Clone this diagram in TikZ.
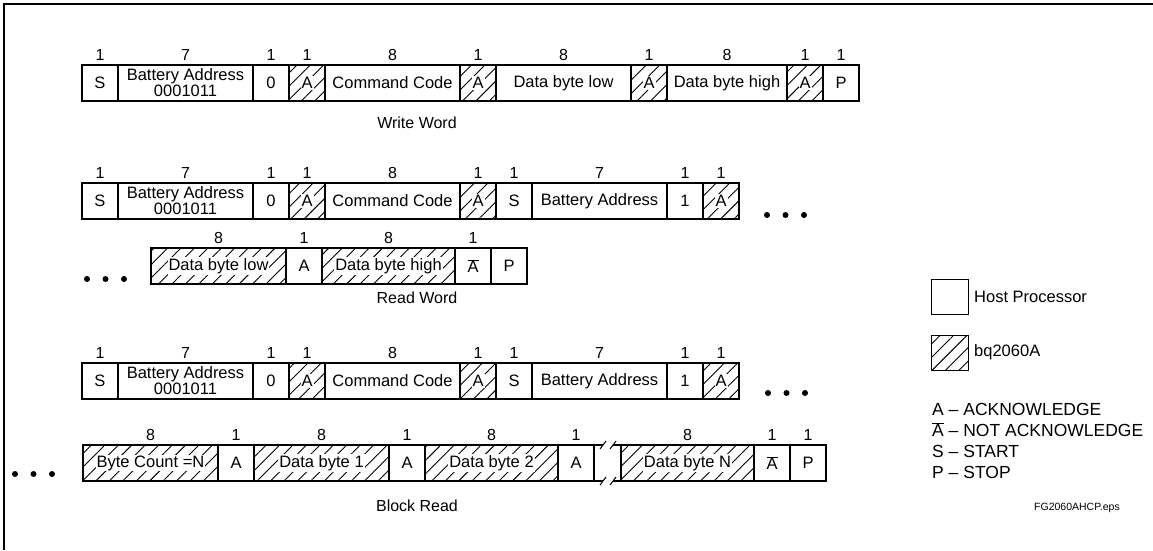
\documentclass[tikz,border=0pt]{standalone}
\usepackage{fontspec}
\setmainfont{Liberation Sans}
\usetikzlibrary{positioning, patterns.meta}

\newcommand{\nack}{$\overline{\mbox{A}}$}
\newcommand{\onwhite}[1]{{\setlength{\fboxsep}{1pt}\colorbox{white}{#1}}}

\begin{document}
\begin{tikzpicture}[
        x=1pt, y=-1pt,
        label distance=4pt,
        field/.style = {draw, line width=1.6pt, minimum height=36, inner sep=0pt, outer sep=0pt, align=center, font=\fontsize{16.5}{14}\selectfont},
        host/.style = {field},
        dev/.style = {field, pattern={Lines[angle=45, distance=9.5pt, line width=0.9pt]}},
        onebit/.style = {minimum width=36},
        bytewide/.style = {minimum width=135},
        bits/.style = {label={[bitcount]above:#1}},
        bitcount/.style = {font=\fontsize{16}{16}\selectfont, inner sep=0pt},
        rowtitle/.style = {font=\fontsize{16}{16}\selectfont},
        rim/.style = {line width=1.6pt},
        keybox/.style = {draw, line width=1pt, minimum width=37, minimum height=35, inner sep=0pt, outer sep=0pt},
        keytext/.style = {font=\fontsize{16.5}{16.5}\selectfont, inner sep=0pt}
    ]
    \useasboundingbox (0,0) rectangle (1153,550);
    \draw[line width=1.5pt] (4,550) -- (4,4) -- (1153,4);

    % write word
    \node[host, onebit, bits=1, anchor=north west] (ws) at (82,65) {S};
    \node[host, bytewide, bits=7, right=0pt of ws] (waddr) {Battery Address\\0001011};
    \node[host, onebit, bits=1, right=0pt of waddr] (wrw) {0};
    \node[dev, onebit, bits=1, right=0pt of wrw] (wack1) {\onwhite{A}};
    \node[host, bytewide, bits=8, right=0pt of wack1] (wcmd) {Command Code};
    \node[dev, onebit, bits=1, right=0pt of wcmd] (wack2) {\onwhite{A}};
    \node[host, bytewide, bits=8, right=0pt of wack2] (wlo) {Data byte low};
    \node[dev, onebit, bits=1, right=0pt of wlo] (wack3) {\onwhite{A}};
    \node[host, minimum width=120, bits=8, right=0pt of wack3] (whi) {Data byte high};
    \node[dev, onebit, bits=1, right=0pt of whi] (wack4) {\onwhite{A}};
    \node[host, onebit, bits=1, right=0pt of wack4] (wp) {P};
    \node[rowtitle] (wtitle) at (417,123) {Write Word};

    % read word
    \node[host, onebit, bits=1, anchor=north west] (rs) at (82,183) {S};
    \node[host, bytewide, bits=7, right=0pt of rs] (raddr) {Battery Address\\0001011};
    \node[host, onebit, bits=1, right=0pt of raddr] (rrw) {0};
    \node[dev, onebit, bits=1, right=0pt of rrw] (rack1) {\onwhite{A}};
    \node[host, bytewide, bits=8, right=0pt of rack1] (rcmd) {Command Code};
    \node[dev, onebit, bits=1, right=0pt of rcmd] (rack2) {\onwhite{A}};
    \node[host, onebit, bits=1, right=0pt of rack2] (rrs) {S};
    \node[host, bytewide, bits=7, right=0pt of rrs] (rraddr) {Battery Address};
    \node[host, onebit, bits=1, right=0pt of rraddr] (rrd) {1};
    \node[dev, onebit, bits=1, right=0pt of rrd] (rack3) {\onwhite{A}};
    \coordinate (more1) at ([xshift=28pt, yshift=4pt]rack3.south east);

    \node[dev, bytewide, bits=8, anchor=north west] (rlo) at (151,248) {\onwhite{Data byte low}};
    \node[host, onebit, bits=1, right=0pt of rlo] (rack4) {A};
    \node[dev, minimum width=133, bits=8, right=0pt of rack4] (rhi) {\onwhite{Data byte high}};
    \node[host, onebit, bits=1, right=0pt of rhi] (rnack) {\nack};
    \node[host, onebit, right=0pt of rnack] (rp) {P};
    \coordinate (more2) at ([xshift=-64pt, yshift=5pt]rlo.south west);
    \node[rowtitle] (rtitle) at (417,298) {Read Word};

    % block read
    \node[host, onebit, bits=1, anchor=north west] (bs) at (82,363) {S};
    \node[host, bytewide, bits=7, right=0pt of bs] (baddr) {Battery Address\\0001011};
    \node[host, onebit, bits=1, right=0pt of baddr] (brw) {0};
    \node[dev, onebit, bits=1, right=0pt of brw] (back1) {\onwhite{A}};
    \node[host, bytewide, bits=8, right=0pt of back1] (bcmd) {Command Code};
    \node[dev, onebit, bits=1, right=0pt of bcmd] (back2) {\onwhite{A}};
    \node[host, onebit, bits=1, right=0pt of back2] (brs) {S};
    \node[host, bytewide, bits=7, right=0pt of brs] (braddr) {Battery Address};
    \node[host, onebit, bits=1, right=0pt of braddr] (brd) {1};
    \node[dev, onebit, bits=1, right=0pt of brd] (back3) {\onwhite{A}};
    \coordinate (more3) at ([xshift=29pt, yshift=6pt]back3.south east);

    \node[dev, bytewide, bits=8, anchor=north west] (bcnt) at (83,445) {\onwhite{Byte Count =N}};
    \node[host, onebit, bits=1, right=0pt of bcnt] (back4) {A};
    \node[dev, bytewide, bits=8, right=0pt of back4] (bdb1) {\onwhite{Data byte 1}};
    \node[host, onebit, bits=1, right=0pt of bdb1] (back5) {A};
    \node[dev, minimum width=133, bits=8, right=0pt of back5] (bdb2) {\onwhite{Data byte 2}};
    \node[host, onebit, bits=1, right=0pt of bdb2] (back6) {A};
    \node[dev, minimum width=133, bits=8, right=27pt of back6] (bdbn) {\onwhite{Data byte N}};
    \node[host, onebit, bits=1, right=0pt of bdbn] (bnack) {\nack};
    \node[host, onebit, bits=1, right=0pt of bnack] (bp) {P};
    \coordinate (more4) at ([xshift=-68pt, yshift=7pt]bcnt.south west);
    \node[rowtitle] (btitle) at (417,506) {Block Read};

    \draw[rim] (back6.north east) -- ++(9,0);
    \draw[rim] (back6.south east) -- ++(9,0);
    \draw[rim] (bdbn.north west) -- ++(-8,0);
    \draw[rim] (bdbn.south west) -- ++(-8,0);
    \draw[line width=1pt] ([xshift=6pt, yshift=-4pt]back6.north east) -- ([xshift=12pt, yshift=4pt]back6.north east);
    \draw[line width=1pt] ([xshift=6pt, yshift=-4pt]back6.south east) -- ([xshift=12pt, yshift=4pt]back6.south east);
    \draw[line width=1pt] ([xshift=-11pt, yshift=-4pt]bdbn.north west) -- ([xshift=-5pt, yshift=4pt]bdbn.north west);
    \draw[line width=1pt] ([xshift=-11pt, yshift=-4pt]bdbn.south west) -- ([xshift=-5pt, yshift=4pt]bdbn.south west);

    \foreach \m in {more1, more2, more3, more4}
        \foreach \i in {0,1,2}
            \fill ([xshift=\i*18.5pt]\m) circle (3pt);

    % legend
    \node[keybox, anchor=north west] (khost) at (931,279) {};
    \node[keytext, right=6pt of khost] (khosttext) {Host Processor};
    \node[keybox, anchor=north west, pattern={Lines[angle=45, distance=9.5pt, line width=0.9pt]}] (kdev) at (931,335) {};
    \node[keytext, right=6pt of kdev] (kdevtext) {bq2060A};
    \node[anchor=north west, align=left, inner sep=0pt, font=\fontsize{17.5}{21}\selectfont] (kcodes) at (932,403)
        {A -- ACKNOWLEDGE\\\nack{} -- NOT ACKNOWLEDGE\\S -- START\\P -- STOP};
    \node[font=\fontsize{10.5}{10.5}\selectfont] (fname) at (1077,508) {FG2060AHCP.eps};
\end{tikzpicture}
\end{document}
